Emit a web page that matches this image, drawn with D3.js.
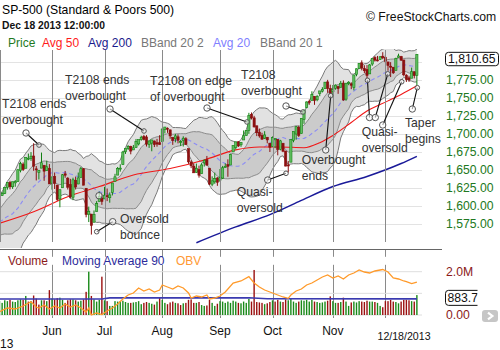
<!DOCTYPE html>
<html>
<head>
<meta charset="utf-8">
<script src="https://cdn.jsdelivr.net/npm/d3@7"></script>
<style>
  html, body { margin: 0; padding: 0; background: #fff; }
  svg { display: block; font-family: "Liberation Sans", Arial, sans-serif; }
</style>
</head>
<body>
<svg id="chart" width="500" height="350"></svg>
<script>
// trading days per month (2013)
const MAY_DAYS = [3,6,7,8,9,10,13,14,15,16,17,20,21,22,23,24,28,29,30,31];
const JUN_DAYS = [3,4,5,6,7,10,11,12,13,14,17,18,19,20,21,24,25,26,27,28];
const JUL_DAYS = [1,2,3,5,8,9,10,11,12,15,16,17,18,19,22,23,24,25,26,29,30,31];
const AUG_DAYS = [1,2,5,6,7,8,9,12,13,14,15,16,19,20,21,22,23,26,27,28,29,30];
const SEP_DAYS = [3,4,5,6,9,10,11,12,13,16,17,18,19,20,23,24,25,26,27,30];
const OCT_DAYS = [1,2,3,4,7,8,9,10,11,14,15,16,17,18,21,22,23,24,25,28,29,30,31];
const NOV_DAYS = [1,4,5,6,7,8,11,12,13,14,15,18,19,20,21,22,25,26,27,29];
const DEC_DAYS = [2,3,4,5,6,9,10,11,12,13,16,17,18];

// closes before the first shown day (for the 20 day bands)
const PRE_CLOSE = [1563.1,1568.6,1587.7,1593.4,1588.9,1552.4,1574.6,1552.0,1541.6,1555.3,
  1562.5,1578.8,1578.8,1585.2,1582.2,1593.6,1597.6,1582.7,1597.6];

const OPEN = [
  1597.6,1614.4,1617.5,1625.9,1632.7,1626.7,1632.1,1633.8,1649.1,1658.1,1652.4,1665.7,1666.2,1669.4,1651.6,1646.7,1652.6,1656.6,1649.1,1652.1,
  1631.7,1640.7,1629.1,1609.9,1625.3,1644.7,1638.6,1629.9,1612.2,1635.5,1630.6,1639.8,1651.8,1624.6,1588.6,1588.8,1577.5,1592.3,1606.4,1611.1,
  1609.8,1614.3,1611.5,1618.7,1634.2,1642.9,1652.5,1657.4,1675.3,1679.6,1682.7,1677.9,1681.1,1686.2,1692.1,1696.6,1695.9,1685.2,1687.3,1690.3,1687.9,1687.8,
  1689.4,1706.1,1708.0,1705.8,1695.3,1693.4,1696.1,1688.4,1690.7,1693.4,1679.6,1661.2,1655.2,1646.8,1650.7,1645.0,1659.9,1664.3,1652.5,1630.3,1633.5,1638.9,
  1635.9,1638.7,1653.3,1657.4,1656.9,1675.1,1681.0,1689.2,1685.0,1691.7,1697.7,1705.0,1727.3,1722.4,1711.4,1702.6,1698.0,1694.1,1695.5,1687.3,
  1682.4,1691.9,1692.4,1678.8,1687.2,1676.2,1657.0,1660.9,1691.1,1699.9,1709.2,1700.5,1720.2,1736.7,1745.2,1746.5,1752.3,1747.5,1756.0,1759.4,1762.9,1772.3,1763.2,
  1758.7,1763.4,1765.7,1765.0,1770.7,1748.4,1770.0,1769.5,1764.4,1782.8,1790.7,1798.8,1790.8,1789.6,1783.5,1797.2,1806.3,1802.9,1803.5,1808.0,
  1806.6,1800.1,1794.2,1792.8,1788.4,1806.2,1807.6,1802.8,1781.7,1778.0,1777.5,1786.5,1781.5
];
const HIGH = [
  1618.5,1619.8,1626.0,1632.8,1635.0,1633.7,1636.0,1651.1,1661.5,1660.5,1667.5,1672.8,1674.9,1687.2,1655.5,1649.8,1674.2,1656.6,1662.9,1658.2,
  1640.4,1646.5,1629.3,1622.6,1644.4,1648.7,1640.1,1637.7,1639.3,1640.8,1646.5,1654.2,1652.5,1624.6,1599.2,1588.8,1593.8,1606.8,1620.1,1615.9,
  1626.6,1624.3,1618.9,1632.1,1644.7,1654.2,1657.9,1676.6,1680.2,1684.5,1683.7,1684.8,1693.1,1692.1,1697.6,1698.8,1698.4,1690.9,1691.9,1690.9,1693.2,1698.4,
  1707.9,1709.7,1709.2,1705.8,1695.3,1700.2,1699.4,1691.5,1696.8,1695.5,1679.6,1663.6,1659.2,1658.9,1656.0,1659.6,1664.9,1669.5,1652.5,1641.2,1646.4,1640.1,
  1651.4,1655.7,1659.2,1664.8,1672.4,1684.1,1689.1,1690.0,1688.7,1704.9,1705.5,1729.4,1729.9,1725.2,1711.4,1707.6,1701.7,1703.9,1695.5,1687.3,
  1696.6,1693.9,1692.4,1691.9,1687.2,1676.8,1662.5,1692.6,1703.4,1711.0,1711.6,1721.8,1733.4,1745.3,1747.8,1759.3,1752.3,1753.9,1759.8,1765.0,1772.1,1775.2,1768.5,
  1768.0,1768.8,1767.0,1773.7,1774.5,1770.8,1773.4,1771.8,1782.0,1791.0,1798.2,1802.3,1795.5,1795.7,1797.2,1804.8,1808.1,1808.4,1808.3,1813.6,
  1810.0,1800.1,1799.8,1792.8,1806.0,1811.5,1808.5,1803.0,1783.0,1780.9,1792.2,1786.8,1811.1
];
const LOW = [
  1597.6,1614.2,1616.6,1622.7,1623.1,1623.7,1626.7,1633.8,1646.7,1648.6,1652.4,1663.5,1662.7,1648.9,1635.5,1636.9,1652.6,1635.0,1648.6,1630.7,
  1622.7,1623.6,1607.1,1598.2,1625.3,1639.3,1622.9,1610.9,1608.1,1622.9,1630.3,1639.8,1628.9,1584.3,1577.7,1560.3,1577.1,1592.3,1606.4,1601.6,
  1609.8,1606.8,1604.6,1614.7,1634.2,1642.9,1647.7,1657.4,1672.3,1677.9,1671.8,1677.9,1681.1,1684.1,1690.7,1691.1,1682.6,1680.7,1676.0,1681.9,1682.4,1684.9,
  1689.4,1700.7,1701.6,1693.3,1684.9,1688.4,1687.0,1683.4,1682.6,1684.8,1658.6,1652.6,1645.8,1646.1,1639.4,1645.0,1654.8,1656.0,1629.1,1627.5,1630.9,1628.0,
  1633.4,1637.4,1653.1,1640.6,1656.9,1675.1,1678.7,1682.0,1682.2,1691.7,1697.7,1700.2,1720.2,1708.9,1697.1,1694.9,1691.9,1693.1,1687.1,1675.0,
  1682.1,1680.3,1670.4,1677.3,1674.7,1655.0,1646.5,1660.9,1688.5,1692.1,1695.9,1700.5,1714.1,1735.7,1740.6,1746.5,1740.5,1745.5,1752.5,1757.7,1762.9,1757.2,1755.7,
  1752.7,1761.6,1755.8,1764.4,1746.2,1746.2,1767.8,1762.3,1760.6,1780.2,1790.7,1788.4,1784.7,1777.2,1783.5,1794.7,1800.6,1800.8,1802.8,1803.8,
  1798.6,1787.9,1779.1,1783.4,1788.4,1806.2,1801.4,1780.1,1772.3,1772.4,1777.5,1777.2,1768.0
];
const CLOSE = [
  1614.4,1617.5,1626.0,1632.7,1626.7,1633.7,1633.8,1650.3,1658.8,1650.5,1667.5,1666.3,1669.2,1655.4,1650.5,1649.6,1660.1,1648.4,1654.4,1630.7,
  1640.4,1631.4,1608.9,1622.6,1643.4,1642.8,1626.1,1612.5,1636.4,1626.7,1639.0,1651.8,1628.9,1588.2,1592.4,1573.1,1588.0,1603.3,1613.2,1606.3,
  1615.0,1614.1,1615.4,1631.9,1640.5,1652.3,1652.6,1675.0,1680.2,1682.5,1676.3,1680.9,1689.4,1692.1,1695.5,1692.4,1685.9,1690.3,1691.7,1685.3,1686.0,1685.7,
  1706.9,1709.7,1707.1,1697.4,1690.9,1697.5,1691.4,1689.5,1694.2,1685.4,1661.3,1655.8,1646.1,1652.4,1642.8,1657.0,1663.5,1656.8,1630.5,1635.0,1638.2,1633.0,
  1639.8,1653.1,1655.1,1655.2,1671.7,1684.0,1689.1,1683.4,1688.0,1697.6,1704.8,1725.5,1722.3,1709.9,1701.8,1697.4,1692.8,1698.7,1691.8,1681.6,
  1695.0,1693.9,1678.7,1690.5,1676.1,1655.5,1656.4,1692.6,1703.2,1710.1,1698.1,1721.5,1733.2,1744.5,1744.7,1754.7,1746.4,1752.1,1759.8,1762.1,1772.0,1763.3,1756.5,
  1761.6,1767.9,1763.0,1770.5,1747.2,1770.6,1771.9,1767.7,1782.0,1790.6,1798.2,1791.5,1787.9,1781.4,1795.9,1804.8,1802.5,1802.8,1807.2,1805.8,
  1800.9,1795.2,1792.8,1785.0,1805.1,1808.4,1802.6,1782.2,1775.5,1775.3,1786.5,1781.0,1810.65
];
const VOLUME = [
  650,560,680,640,700,620,600,680,720,700,880,620,640,900,760,480,680,680,640,1150,
  760,720,780,800,700,560,680,720,720,680,620,660,720,1070,2000,880,720,620,700,1770,
  680,640,420,420,640,620,640,660,600,560,560,580,600,640,500,560,600,560,520,480,620,820,
  700,560,500,580,620,560,540,460,540,560,700,720,560,560,600,460,420,440,700,560,420,520,
  640,620,560,620,560,660,620,560,540,620,560,740,620,2080,600,580,560,500,540,600,
  680,620,700,620,600,720,680,760,620,560,620,680,660,700,620,700,620,600,560,580,620,660,860,
  640,560,560,600,800,620,420,580,620,580,640,620,600,660,620,620,600,560,420,360,
  640,640,700,620,600,540,620,700,700,680,640,620,920
];

// moving averages: [day index, value]
const AVG50 = [[0,1576],[13,1592],[26,1613],[38,1627],[51,1643],[65,1652],[78,1664],[90,1678],
  [99,1682],[107,1682],[116,1681],[122,1688],[127,1698],[134,1716],[140,1732],[148,1746],[153,1755],[159,1767]];
const AVG200 = [[75,1549],[90,1571],[103,1588],[114,1606],[127,1627],[140,1641],[153,1659],[159,1669]];
const VOL_AVG90 = [[0,740],[39,740],[42,790],[95,795],[102,750],[159,745]];
const OBV = [[0,1260],[3,2000],[6,1800],[9,2400],[12,3260],[14,2200],[15,2000],[17,2600],[19,1800],[21,2400],
  [23,2000],[25,2800],[27,2200],[29,2600],[31,2000],[33,1200],[34,2000],[35,600],[37,1000],[39,700],
  [41,1400],[43,2000],[45,2800],[47,3800],[49,4600],[51,5000],[53,6000],[55,5400],[57,5800],[59,5200],
  [61,5600],[62,6600],[64,6200],[66,5800],[68,6400],[70,6000],[72,5000],[73,4000],[75,4400],[77,4200],
  [79,4600],[80,3800],[82,4000],[84,4400],[86,5200],[89,7000],[92,7400],[95,8260],[97,7000],[99,6200],
  [101,5600],[103,5200],[104,5000],[106,4600],[108,4200],[110,3940],[111,4600],[113,5400],[115,5800],[117,6600],
  [119,7000],[121,7600],[123,8200],[125,8600],[127,8000],[129,8400],[131,7800],[133,8600],[135,9000],[137,9600],
  [139,9200],[141,9000],[143,9400],[145,9600],[146,9700],[148,9200],[150,8000],[152,7800],[154,7400],[155,7260],
  [157,6900],[159,7200]];

const PRICE_TICKS = [1575,1600,1625,1650,1675,1700,1725,1750,1775,1800];
const MONTH_LABELS = ["Jun","Jul","Aug","Sep","Oct","Nov"];

// notes: each pair is [label day, label price, target day, target price]
const NOTES = [
  { lines: ["T2108 ends", "overbought"], pairs: [[10.1,1701.4,15.05,1684.7]], dx: -24, dy: -25 },
  { lines: ["T2108 ends", "overbought"], pairs: [[42.1,1734.7,55.05,1704.2]], dx: -45, dy: -25.5 },
  { lines: ["T2108 on edge", "of overbought"], pairs: [[79.05,1736.1,94.29,1716.7]], dx: -57, dy: -23 },
  { lines: ["T2108", "overbought"], pairs: [[109.14,1738.9,115.62,1730.6]], dx: -45, dy: -26.5 },
  { lines: ["Oversold", "bounce"], pairs: [[43.12,1578.2,37.03,1564.3]], dx: 7.3, dy: 1.6 },
  { lines: ["Quasi-", "oversold"], pairs: [[102.17,1636.1,109.14,1645.4]], dx: -31, dy: 16 },
  { lines: ["Overbought", "ends"], pairs: [[124.27,1677.8,126.17,1753.2]], dx: -24, dy: 14.5 },
  { lines: ["Quasi-", "oversold"], pairs: [[140.95,1722.9,140.19,1774.6],[143.16,1722.9,147.92,1783.6],[145.98,1712.5,153.22,1772.6]], dx: -7.8, dy: 18.5 },
  { lines: ["Taper", "begins"], pairs: [[157.26,1734.7,159.16,1764.3]], dx: -7.3, dy: 17.5 },
  { lines: [], pairs: [[37.9,1614.3]], dx: 0, dy: 0 }
];

const months = [[4,MAY_DAYS],[5,JUN_DAYS],[6,JUL_DAYS],[7,AUG_DAYS],[8,SEP_DAYS],[9,OCT_DAYS],[10,NOV_DAYS],[11,DEC_DAYS]];
const dates = [];
months.forEach(([m, days]) => days.forEach(d => dates.push(new Date(2013, m, d))));

const allClose = PRE_CLOSE.concat(CLOSE);
const rows = dates.map((date, i) => {
  const win = allClose.slice(i, i + 20);
  const m = d3.mean(win);
  const s = Math.sqrt(d3.mean(win, v => (v - m) * (v - m)));
  return {
    i, date,
    open: OPEN[i], high: HIGH[i], low: LOW[i], close: CLOSE[i], vol: VOLUME[i],
    up: i === 0 ? CLOSE[i] >= PRE_CLOSE[PRE_CLOSE.length - 1] : CLOSE[i] >= CLOSE[i - 1],
    mid: m, up2: m + 2 * s, lo2: m - 2 * s, up1: m + s, lo1: m - s
  };
});

const svg = d3.select("#chart");
const plotRight = 422;

const x = d3.scaleBand().domain(d3.range(rows.length)).range([-1.81, 418.19]);
const xc = i => x(i) + x.bandwidth() / 2;
const xi = d3.scaleLinear().domain([0, rows.length - 1]).range([xc(0), xc(rows.length - 1)]);
const y = d3.scaleLinear().domain([1575, 1775]).range([224, 80]);
const vy = d3.scaleLinear().domain([0, 2000]).range([315, 271.7]);
const oy = d3.scaleLinear().domain([0, 10000]).range([318, 268]);

const monthStarts = rows.filter((d, k) => k > 0 && d.date.getMonth() !== rows[k - 1].date.getMonth());
const last = rows[rows.length - 1];

// header
svg.append("text").attr("x", 2).attr("y", 13.5).attr("font-size", 12.2).attr("fill", "#000")
  .text("SP-500 (Standard & Poors 500)");
svg.append("text").attr("x", 2).attr("y", 28.5).attr("font-size", 10.3).attr("font-weight", "bold").attr("fill", "#111")
  .text("Dec 18 2013 12:00:00");
svg.append("text").attr("x", 366).attr("y", 20.5).attr("font-size", 12.2).attr("fill", "#111")
  .text("\u00a9 FreeStockCharts.com");

const legend = [["Price", "#1f7a1f", 8], ["Avg 50", "#ff1a1a", 42], ["Avg 200", "#1a1a8c", 88],
  ["BBand 20 2", "#777", 141], ["Avg 20", "#8080ff", 213], ["BBand 20 1", "#777", 260]];
svg.selectAll(".lg").data(legend).enter().append("text")
  .attr("x", d => d[2]).attr("y", 46.5).attr("font-size", 12).attr("fill", d => d[1]).text(d => d[0]);

// price panel grid
const defs = svg.append("defs");
defs.append("clipPath").attr("id", "pclip").append("rect")
  .attr("x", 0).attr("y", 49).attr("width", plotRight).attr("height", 199);

svg.selectAll(".hg").data(PRICE_TICKS).enter().append("line")
  .attr("x1", 0).attr("x2", plotRight).attr("y1", d => y(d) + 0.5).attr("y2", d => y(d) + 0.5)
  .attr("stroke", "#e3e3e3");

const price = svg.append("g").attr("clip-path", "url(#pclip)");

price.append("path").datum(rows)
  .attr("d", d3.area().x(d => xc(d.i)).y0(d => y(d.lo2)).y1(d => y(d.up2)))
  .attr("fill", "#e2e2e2");
price.append("path").datum(rows)
  .attr("d", d3.area().x(d => xc(d.i)).y0(d => y(d.lo1)).y1(d => y(d.up1)))
  .attr("fill", "#cbcbcb");
["up2", "lo2"].forEach(k => price.append("path").datum(rows)
  .attr("d", d3.line().x(d => xc(d.i)).y(d => y(d[k])))
  .attr("fill", "none").attr("stroke", "#7a7a7a").attr("stroke-width", 1));
["up1", "lo1"].forEach(k => price.append("path").datum(rows)
  .attr("d", d3.line().x(d => xc(d.i)).y(d => y(d[k])))
  .attr("fill", "none").attr("stroke", "#8c8c8c").attr("stroke-width", 1));

svg.selectAll(".vg").data(monthStarts).enter().append("line")
  .attr("x1", d => Math.round(xc(d.i)) + 0.5).attr("x2", d => Math.round(xc(d.i)) + 0.5)
  .attr("y1", 50).attr("y2", 242).attr("stroke", "#8a8a8a");
svg.append("line").attr("x1", 0.5).attr("x2", 0.5).attr("y1", 50).attr("y2", 242).attr("stroke", "#8a8a8a");

price.append("path").datum(rows)
  .attr("d", d3.line().x(d => xc(d.i)).y(d => y(d.mid)))
  .attr("fill", "none").attr("stroke", "#8c8cf5").attr("stroke-width", 1.1).attr("stroke-dasharray", "4,3");
price.append("path").datum(AVG50)
  .attr("d", d3.line().curve(d3.curveMonotoneX).x(d => xi(d[0])).y(d => y(d[1])))
  .attr("fill", "none").attr("stroke", "#f01818").attr("stroke-width", 1.1);
price.append("path").datum(AVG200)
  .attr("d", d3.line().curve(d3.curveMonotoneX).x(d => xi(d[0])).y(d => y(d[1])))
  .attr("fill", "none").attr("stroke", "#1a1a99").attr("stroke-width", 1.5);

// candles
const candle = price.selectAll(".c").data(rows).enter().append("g");
candle.append("line")
  .attr("x1", d => xc(d.i)).attr("x2", d => xc(d.i))
  .attr("y1", d => y(d.high)).attr("y2", d => y(d.low))
  .attr("stroke", d => d.close >= d.open ? "#128012" : "#8b1010").attr("stroke-width", 1);
candle.append("rect")
  .attr("x", d => xc(d.i) - 1.1).attr("width", 2.2)
  .attr("y", d => y(Math.max(d.open, d.close)))
  .attr("height", d => Math.max(1, Math.abs(y(d.open) - y(d.close))))
  .attr("fill", d => d.close >= d.open ? "#62bf62" : "#8b1010")
  .attr("stroke", d => d.close >= d.open ? "#128012" : "#8b1010").attr("stroke-width", 0.6);

// notes
const notes = svg.append("g");
NOTES.forEach(n => {
  n.pairs.forEach(p => {
    const x0 = xi(p[0]), y0 = y(p[1]);
    if (p.length > 2) {
      const x1 = xi(p[2]), y1 = y(p[3]);
      notes.append("line").attr("x1", x0).attr("y1", y0).attr("x2", x1).attr("y2", y1)
        .attr("stroke", "#111").attr("stroke-width", 1.1);
      notes.append("circle").attr("cx", x1).attr("cy", y1).attr("r", 2.3)
        .attr("fill", "rgba(255,255,255,0.5)").attr("stroke", "#555");
    }
    notes.append("circle").attr("cx", x0).attr("cy", y0).attr("r", 3.2)
      .attr("fill", "rgba(255,255,255,0.6)").attr("stroke", "#555");
  });
  if (n.lines.length) {
    const bx = xi(n.pairs[0][0]) + n.dx, by = y(n.pairs[0][1]) + n.dy;
    n.lines.forEach((t, k) => notes.append("text").attr("x", bx).attr("y", by + k * 16)
      .attr("font-size", 12.2).attr("fill", "#333").text(t));
  }
});

// price axis labels (the top one sits under the last-price box)
const fmt = d3.format(",.2f");
svg.selectAll(".pl").data(PRICE_TICKS.filter(d => y(d) > y(last.close) + 14)).enter().append("text")
  .attr("x", 446).attr("y", d => y(d) + 4.4).attr("font-size", 12.2).attr("fill", "#217821")
  .text(d => fmt(d));
const by = y(last.close) + 4.7;
svg.append("rect").attr("x", 445.5).attr("y", by - 6.7).attr("width", 53).attr("height", 13.4).attr("rx", 3)
  .attr("fill", "#fff").attr("stroke", "#111");
svg.append("text").attr("x", 448).attr("y", by + 4.4).attr("font-size", 12.2).attr("fill", "#111")
  .text(fmt(last.close));

// separator
svg.append("line").attr("x1", 0).attr("x2", 442).attr("y1", 249.5).attr("y2", 249.5).attr("stroke", "#666");

// volume panel
svg.selectAll(".vgv").data(monthStarts).enter().append("line")
  .attr("x1", d => Math.round(xc(d.i)) + 0.5).attr("x2", d => Math.round(xc(d.i)) + 0.5)
  .attr("y1", 250).attr("y2", 318).attr("stroke", "#8a8a8a");
svg.append("rect").attr("x", 0).attr("y", 256.8).attr("width", plotRight).attr("height", 8).attr("fill", "#fff");
[["Volume", "#8b1a1a", 8], ["Moving Average 90", "#2b2b9b", 62], ["OBV", "#ff9933", 176]].forEach(l =>
  svg.append("text").attr("x", l[2]).attr("y", 264.8).attr("font-size", 12).attr("fill", l[1]).text(l[0]));

svg.selectAll(".vh").data([0, 1000, 2000]).enter().append("line")
  .attr("x1", 0).attr("x2", plotRight).attr("y1", d => vy(d)).attr("y2", d => vy(d)).attr("stroke", "#dedede");

svg.selectAll(".vb").data(rows).enter().append("rect")
  .attr("x", d => xc(d.i) - 0.7).attr("width", 1.4)
  .attr("y", d => vy(d.vol)).attr("height", d => vy(0) - vy(d.vol))
  .attr("fill", d => d.up ? "#1a8a1a" : "#9b1010");

svg.append("path").datum(VOL_AVG90)
  .attr("d", d3.line().x(d => xi(d[0])).y(d => vy(d[1])))
  .attr("fill", "none").attr("stroke", "#3a3ab0").attr("stroke-width", 1.6);
svg.append("path").datum(OBV)
  .attr("d", d3.line().x(d => xi(d[0])).y(d => oy(d[1])))
  .attr("fill", "none").attr("stroke", "#ff9a2a").attr("stroke-width", 1.3);

svg.append("text").attr("x", 446).attr("y", vy(2000) + 4.4).attr("font-size", 12.2).attr("fill", "#8b1a1a").text("2.0M");
svg.append("text").attr("x", 446).attr("y", vy(0) + 4.4).attr("font-size", 12.2).attr("fill", "#8b1a1a").text("0.00");

defs.append("clipPath").attr("id", "vclip").append("rect")
  .attr("x", 440).attr("y", 284).attr("width", 37.5).attr("height", 26);
const vbox = svg.append("g").attr("clip-path", "url(#vclip)");
const vby = vy(VOL_AVG90[VOL_AVG90.length - 1][1]) - 1;
vbox.append("rect").attr("x", 445.5).attr("y", vby - 7.5).attr("width", 44).attr("height", 15).attr("rx", 3)
  .attr("fill", "#fff").attr("stroke", "#111");
vbox.append("text").attr("x", 447.5).attr("y", vby + 4.4).attr("font-size", 12.2).attr("fill", "#111").text("883.7");

// next button
svg.append("rect").attr("x", 482).attr("y", 310).attr("width", 16).attr("height", 12).attr("rx", 3).attr("fill", "#c6c6c6");
svg.append("path").attr("d", "M488,312.6L492.4,316L488,319.4").attr("fill", "none")
  .attr("stroke", "#fff").attr("stroke-width", 2.2);

// x axis
svg.selectAll(".ml").data(monthStarts.slice(0, MONTH_LABELS.length)).enter().append("text")
  .attr("x", d => xc(d.i)).attr("y", 334.5).attr("text-anchor", "middle").attr("font-size", 12)
  .attr("fill", "#111").text((d, k) => MONTH_LABELS[k]);
svg.append("text").attr("x", 0).attr("y", 347.5).attr("font-size", 12).attr("fill", "#111").text("13");
svg.append("text").attr("x", 377.5).attr("y", 340).attr("font-size", 10.6).attr("fill", "#111")
  .text(d3.timeFormat("%m/%d/%Y")(last.date));
</script>
</body>
</html>
